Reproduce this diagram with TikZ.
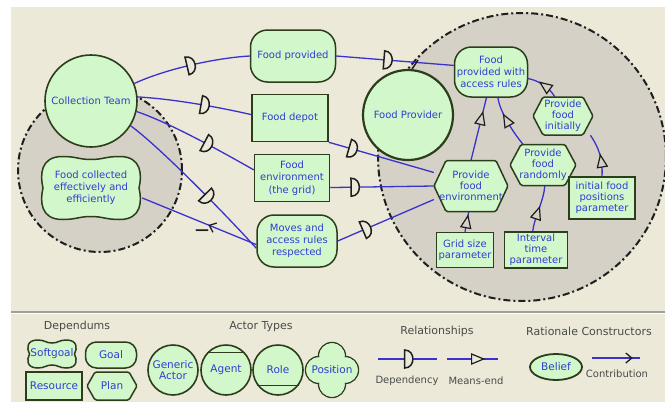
\documentclass[tikz,border=0pt]{standalone}
\usepackage{fontspec}
\setmainfont{DejaVu Sans}
\usetikzlibrary{calc,decorations.markings,arrows.meta,shapes.geometric}

\definecolor{bgbeige}{HTML}{ECE9D8}
\definecolor{bndgray}{HTML}{D6D1C7}
\definecolor{elfill}{HTML}{D2F7CA}
\definecolor{elline}{HTML}{2C3D1C}
\definecolor{eltext}{HTML}{2E3ED2}
\definecolor{lnblue}{HTML}{3A32CC}
\definecolor{symdark}{HTML}{1E1E1E}
\definecolor{legtext}{HTML}{4A4A4A}

\pgfdeclarelayer{bnd}
\pgfdeclarelayer{lnk}
\pgfsetlayers{bnd,lnk,main}

% dependency "D" and means-end triangle, drawn along a link
\newcommand\dsym{\draw[symdark,line width=1.5pt,fill=bgbeige] (-4,-9) -- (-4,9) .. controls (7,9) and (7,-9) .. (-4,-9) -- cycle;}
\newcommand\mesym[1]{\draw[symdark,line width=1.2pt,fill=#1,line join=miter] (-6,-5) -- (6,0) -- (-6,5) -- cycle;}

% softgoal: name, cx, cy, w, h, text
\newcommand\softgoal[6]{%
  \pgfmathsetmacro\sgL{#2-#4/2}\pgfmathsetmacro\sgR{#2+#4/2}%
  \pgfmathsetmacro\sgT{#3-#5/2}\pgfmathsetmacro\sgB{#3+#5/2}%
  \pgfmathsetmacro\sgA{#2-0.28*#4}\pgfmathsetmacro\sgAA{#2+0.28*#4}%
  \draw[outl] ({\sgL+3},#3)
    .. controls (\sgL,{#3-0.2*#5}) and (\sgL,\sgT) .. (\sgA,\sgT)
    .. controls ({#2-0.14*#4},\sgT) and ({#2-0.12*#4},{\sgT+3}) .. (#2,{\sgT+3})
    .. controls ({#2+0.12*#4},{\sgT+3}) and ({#2+0.14*#4},\sgT) .. (\sgAA,\sgT)
    .. controls (\sgR,\sgT) and (\sgR,{#3-0.2*#5}) .. ({\sgR-3},#3)
    .. controls (\sgR,{#3+0.2*#5}) and (\sgR,\sgB) .. (\sgAA,\sgB)
    .. controls ({#2+0.14*#4},\sgB) and ({#2+0.12*#4},{\sgB-3}) .. (#2,{\sgB-3})
    .. controls ({#2-0.12*#4},{\sgB-3}) and ({#2-0.14*#4},\sgB) .. (\sgA,\sgB)
    .. controls (\sgL,\sgB) and (\sgL,{#3+0.2*#5}) .. ({\sgL+3},#3) -- cycle;
  \node[lbl,minimum width=#4pt,minimum height=#5pt] (#1) at (#2,#3) {#6};
}

% task (hexagon): name, cx, cy, w, h, cut, text
\newcommand\tasknode[7]{%
  \draw[outl,rounded corners=1.5pt] ({#2-#4/2},#3) -- ({#2-#4/2+#6},{#3-#5/2})
    -- ({#2+#4/2-#6},{#3-#5/2}) -- ({#2+#4/2},#3) -- ({#2+#4/2-#6},{#3+#5/2})
    -- ({#2-#4/2+#6},{#3+#5/2}) -- cycle;
  \node[lbl,minimum width=#4pt,minimum height=#5pt] (#1) at (#2,#3) {#7};
}

\begin{document}
\begin{tikzpicture}[x=1pt,y=-1pt,
  lbl/.style={text=eltext,align=center,inner sep=0pt,font=\fontsize{10}{12}\selectfont},
  outl/.style={draw=elline,fill=elfill,line width=1.5pt},
  actor/.style={lbl,circle,draw=elline,fill=elfill,line width=1.6pt},
  goal/.style={lbl,rectangle,draw=elline,fill=elfill,line width=1.5pt,rounded corners=17pt},
  res/.style={lbl,rectangle,draw=elline,fill=elfill,line width=1.5pt},
  belief/.style={lbl,ellipse,draw=elline,fill=elfill,line width=1.8pt},
  bndc/.style={circle,draw=symdark,fill=bndgray,line width=2pt,
    dash pattern=on 7pt off 3pt on 2pt off 3pt,inner sep=0pt},
  lnk/.style={draw=lnblue,line width=1.3pt},
  dep at/.style={postaction={decorate,decoration={markings,mark=at position #1 with {\dsym}}}},
  me at/.style={postaction={decorate,decoration={markings,mark=at position #1 with {\mesym{bndgray}}}}},
  mel at/.style={postaction={decorate,decoration={markings,mark=at position #1 with {\mesym{bgbeige}}}}},
  contrib at/.style={postaction={decorate,decoration={markings,mark=at position #1 with
    {\arrow[symdark]{Straight Barb[length=6pt,width=10pt,line width=1.3pt]}}}}},
  legh/.style={text=legtext,inner sep=0pt,font=\fontsize{11}{13}\selectfont},
  legl/.style={text=legtext,inner sep=0pt,font=\fontsize{10}{12}\selectfont}
]
\useasboundingbox (0,0) rectangle (665,402);

% background, actor boundaries and legend divider
\begin{pgfonlayer}{bnd}
  \fill[white] (0,0) rectangle (665,402);
  \fill[bgbeige] (11,7) rectangle (665,402);
  \node[bndc,minimum size=164pt] (ctb) at (100,170) {};
  \node[bndc,minimum size=288pt] (fpb) at (522,157) {};
  \draw[gray!75,line width=1.3pt] (11,312) -- (665,312);
  \draw[white,line width=1pt] (11,313.8) -- (665,313.8);
\end{pgfonlayer}

% actors
\node[actor,minimum size=92pt] (ct) at (91,101) {Collection Team};
\node[actor,minimum size=90pt,line width=2.2pt] (fprov) at (408,115) {Food Provider};

% dependums
\softgoal{fc}{91}{188}{102}{63}{Food collected\\effectively and\\efficiently}
\node[goal,minimum width=85pt,minimum height=52pt] (fpd) at (293,56) {Food provided};
\node[res,minimum width=76pt,minimum height=47pt] (dep) at (290,118) {Food depot};
\node[res,minimum width=75pt,minimum height=47pt,font=\fontsize{10}{12.5}\selectfont] (env) at (292,178) {Food\\environment\\(the grid)};
\node[goal,minimum width=80pt,minimum height=52pt] (mov) at (297,241) {Moves and\\access rules\\respected};

% Food Provider internals
\node[goal,minimum width=73pt,minimum height=50pt] (fpwar) at (491,72) {Food\\provided with\\access rules};
\begin{scope}[lbl/.append style={font=\fontsize{10}{11}\selectfont}]
  \tasknode{pfi}{563}{116}{60}{38}{10}{Provide\\food\\initially}
  \tasknode{pfr}{543}{165}{66}{41}{11}{Provide\\food\\randomly}
  \tasknode{pfe}{471}{186}{74}{51}{12}{Provide\\food\\environment}
  \node[res,minimum width=66pt,minimum height=42pt] (ifpp) at (602,198) {initial food\\positions\\parameter};
  \node[res,minimum width=57pt,minimum height=35pt] (gsp) at (465,250) {Grid size\\parameter};
  \node[res,minimum width=63pt,minimum height=36pt] (itp) at (536,250) {Interval\\time\\parameter};
\end{scope}

% links
\begin{pgfonlayer}{lnk}
  \draw[lnk,dep at=0.5] (ct.22) .. controls ($(ct.22)+(30,-14)$) and ($(fpd.west)+(-35,2)$) .. (fpd.west);
  \draw[lnk,dep at=0.44] (fpd.east) -- (fpwar.170);
  \draw[lnk,dep at=0.59] (ct.5) .. controls ($(ct.5)+(35,2)$) and ($(dep.175)+(-35,-8)$) .. (dep.175);
  \draw[lnk,dep at=0.23] (dep.south east) -- (pfe.160);
  \draw[lnk,dep at=0.6] (ct.-13) .. controls ($(ct.-13)+(35,12)$) and ($(env.168)+(-30,-17)$) .. (env.168);
  \draw[lnk,dep at=0.24] (env.-14) -- (pfe.west);
  \draw[lnk,dep at=0.6] (ct.-32) .. controls ($(ct.-32)+(30,22)$) and ($(mov.190)+(-30,-33)$) .. (mov.190);
  \draw[lnk,dep at=0.3] (mov.east) -- (pfe.200);
  \draw[lnk,contrib at=0.42] (mov.185) -- (fc.-11);
  \draw[lnk,me at=0.67] (pfe.north) -- (fpwar.-100);
  \draw[lnk,me at=0.55] (pfr.134) .. controls ($(pfr.134)+(-10,-12)$) and ($(fpwar.-75)+(2,14)$) .. (fpwar.-75);
  \draw[lnk,me at=0.45] (pfi.113) .. controls ($(pfi.113)+(-6,-10)$) and ($(fpwar.-10)+(10,2)$) .. (fpwar.-10);
  \draw[lnk,me at=0.35] (ifpp.north) .. controls ($(ifpp.north)+(1,-18)$) and ($(pfi.-35)+(8,12)$) .. (pfi.-35);
  \draw[lnk,me at=0.5] (gsp.north) -- (pfe.-95);
  \draw[lnk,me at=0.4] (itp.100) .. controls ($(itp.100)+(2,-15)$) and ($(pfr.-85)+(-1,15)$) .. (pfr.-85);
  \draw[symdark,line width=1.5pt] (fprov.85) -- ++(6,-9);
\end{pgfonlayer}
% sign of the contribution link
\node[text=symdark,inner sep=1pt,font=\bfseries\fontsize{14}{14}\selectfont] (hurt) at (202,232) {—};

% legend
\node[legh] (hdep) at (77,326) {Dependums};
\node[legh] (hact) at (261,327) {Actor Types};
\node[legh] (hrel) at (437,331) {Relationships};
\node[legh] (hrat) at (589,331) {Rationale Constructors};
\begin{scope}[lbl/.append style={font=\fontsize{10.5}{12}\selectfont}]
  \softgoal{lsg}{52}{354}{51}{28}{Softgoal}
  \node[goal,minimum width=51pt,minimum height=26pt,rounded corners=11pt] (lgoal) at (111,355) {Goal};
  \node[res,minimum width=56pt,minimum height=28pt,line width=2pt] (lres) at (54,386) {Resource};
  \tasknode{lplan}{112}{386}{50}{28}{8}{Plan}
  \node[actor,minimum size=50pt,font=\fontsize{10.5}{11}\selectfont] (lgen) at (173,370) {Generic\\Actor};
  \node[actor,minimum size=50pt] (lagt) at (226,370) {Agent};
  \draw[elline,line width=1.4pt] (lagt.43) -- (lagt.137);
  \node[actor,minimum size=50pt] (lrole) at (278,370) {Role};
  \draw[elline,line width=1.4pt] (lrole.-37) -- (lrole.-143);
  \foreach \dx/\dy in {-13/0,13/0,0/-14,0/14}
    \draw[elline,line width=1.4pt] ({332+\dx},{370+\dy}) circle (13.5);
  \foreach \dx/\dy in {-13/0,13/0,0/-14,0/14}
    \fill[elfill] ({332+\dx},{370+\dy}) circle (12.8);
  \node[lbl] (lpos) at (332,370) {Position};
  \node[belief,minimum width=52pt,minimum height=26pt] (lbel) at (556,367) {Belief};
\end{scope}
\coordinate (d1) at (378,359);
\coordinate (d2) at (437,359);
\draw[lnk,dep at=0.52] (d1) -- (d2);
\node[legl] (ldep) at (407,381) {Dependency};
\coordinate (m1) at (447,359);
\coordinate (m2) at (498,359);
\draw[lnk,mel at=0.6] (m1) -- (m2);
\node[legl] (lme) at (476,381) {Means-end};
\coordinate (c1) at (592,358);
\coordinate (c2) at (640,358);
\draw[lnk,contrib at=0.85] (c1) -- (c2);
\node[legl] (lcon) at (617,374) {Contribution};
\end{tikzpicture}
\end{document}
